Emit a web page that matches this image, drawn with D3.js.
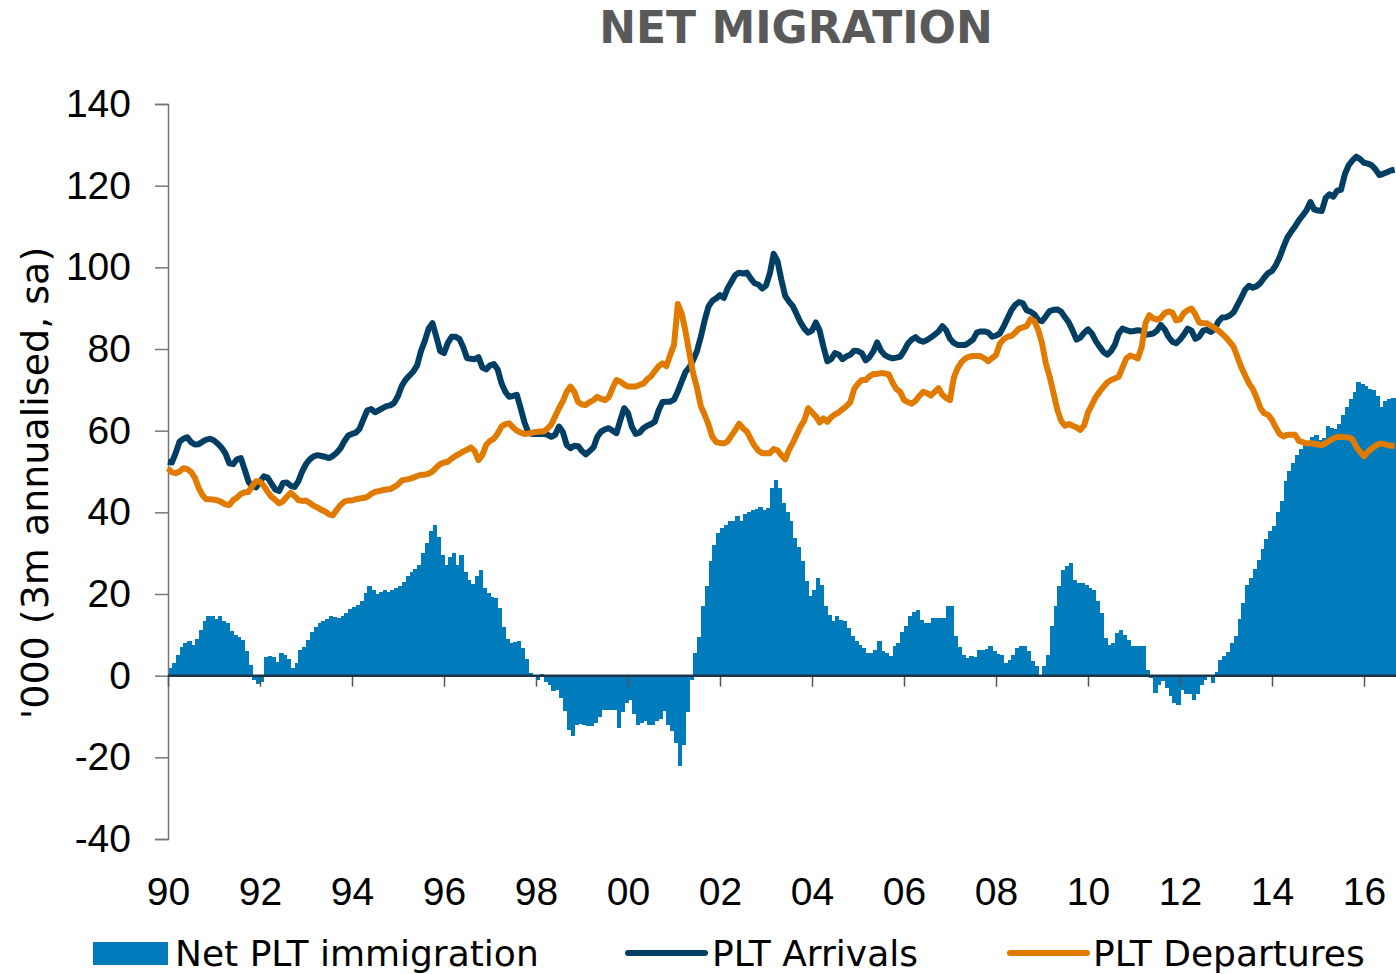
<!DOCTYPE html>
<html lang="en">
<head>
<meta charset="utf-8">
<title>Net migration</title>
<script src="https://cdn.jsdelivr.net/npm/d3@7"></script>
<style>
  html, body { margin: 0; padding: 0; background: #fff; }
  svg { display: block; font-family: "DejaVu Sans", Verdana, sans-serif; }
  .axis text { fill: #000; }
</style>
</head>
<body>
<svg width="1396" height="974"></svg>
<script>
// monthly series, Jan 1990 onwards ('000, 3m annualised, sa)
var startYear = 1990;
var tickLabels = ["90","92","94","96","98","00","02","04","06","08","10","12","14","16"];
var yTicks = [-40, -20, 0, 20, 40, 60, 80, 100, 120, 140];
var seriesNames = ["Net PLT immigration", "PLT Arrivals", "PLT Departures"];

var netMigration = [
  2, 3, 5, 7, 8, 8.6, 7.5, 9, 11.3, 13.5, 14.7, 14.7,
  14, 14.5, 13.5, 13, 11, 10, 9.5, 8.8, 6, 2.5, -1, -2,
  -1.5, 4.5, 4.9, 4.6, 3.3, 5.5, 5.1, 4, 2, 3, 6.4, 7,
  8.8, 10.8, 12, 13, 13.5, 14, 14.5, 14.3, 14.1, 14.5, 15.3, 16.3,
  16.8, 17.2, 18.2, 20.2, 22, 21, 20, 20.5, 21, 20.6, 21, 21.5,
  22, 23, 24.5, 25.5, 26.1, 27.2, 30, 32.5, 35.5, 37, 34, 29.5,
  27, 29, 30, 27, 29.5, 25.5, 23.5, 22.5, 24.3, 26, 21.5, 20.2,
  19.3, 19, 16.5, 12, 9, 8, 8.3, 8.6, 6.8, 4, 0.7, -0.2,
  -1, 0.5, -1.5, -2.3, -3.8, -3.6, -5.5, -8.7, -13.2, -14.7, -12, -11.8,
  -12, -12.4, -12.4, -11.5, -10, -8.5, -8.3, -8.5, -8.5, -12.8, -9, -6.7,
  -6, -9.5, -12, -11.5, -11.2, -12, -12.2, -11.2, -10.6, -8.7, -12, -13.5,
  -16.5, -22.2, -16.9, -9, -1, 5.5, 9.5, 17, 22, 28, 32, 35,
  36.1, 36.9, 38, 37.8, 39, 38, 39.5, 40, 40.5, 40.8, 41.2, 40.6,
  41, 45.9, 48, 46, 42.3, 40.2, 37.8, 33.7, 31.6, 28, 23.1, 19.4,
  21, 23.9, 22.3, 17, 14.9, 13.3, 14.5, 13.7, 13.5, 11.7, 9.6, 8.6,
  7.6, 6.8, 5.5, 5.5, 6.4, 8.6, 6, 5.5, 4.9, 7.2, 8, 10.8,
  12.1, 14.5, 15.7, 16.2, 13.7, 12.9, 12.9, 14.1, 14.1, 14.1, 14.1, 17.1,
  17, 9.6, 7, 5.1, 4.3, 4.7, 4.6, 6.2, 6.2, 6.5, 7.2, 6,
  5.4, 5.1, 3.1, 3.9, 5.1, 6.8, 7.3, 7.3, 6, 3.5, 2.3, 0.2,
  2.3, 5.1, 12.1, 17, 21.9, 25.9, 26.8, 27.6, 23.5, 22.7, 22.8, 22.3,
  21.5, 21, 18.2, 15.3, 9.2, 7.6, 8, 10.4, 11.3, 10, 8.8, 7.2,
  7.2, 7.3, 7.3, 1.5, -0.6, -4.2, -2.2, -1.4, -3, -5.1, -6.7, -7.1,
  -3.4, -4.6, -4.6, -5.9, -4.6, -2.2, -1, -0.2, -1.7, 0.9, 3.9, 4.8,
  5.9, 8, 9.6, 14, 17.9, 22.3, 24, 26.2, 28.4, 31, 33.4, 35.4,
  36.7, 40.2, 42.8, 47.6, 50.2, 52, 54.1, 55.5, 56.8, 57.2, 58.5, 59,
  57.6, 58.1, 61.1, 60.7, 60.3, 61.6, 63.8, 65.9, 67.7, 69.4, 71.8, 71.4,
  70.9, 70.3, 69.9, 68.6, 65.9, 67.2, 67.7, 68.1, 68
];

var arrivals = [
  52.4, 52.2, 54.5, 57.3, 58, 58.4, 57.2, 56.6, 56.7, 57.3, 57.8, 58,
  57.6, 56.8, 55.8, 54.4, 52, 51.8, 53, 53.3, 50.5, 47.5, 46.4, 46.1,
  47.5, 48.8, 48.5, 47, 45.6, 45.2, 47.2, 47.3, 46.5, 46.2, 47.6, 50,
  51.8, 53, 53.7, 54, 53.8, 53.6, 53.3, 53.8, 54.6, 55.7, 57.4, 58.8,
  59.2, 59.5, 60.5, 62.8, 65, 65.3, 64.5, 65, 65.5, 66, 66.2, 66.8,
  68.5, 71, 72.5, 73.5, 74.5, 76, 79.5, 82, 85, 86.3, 83, 79.5,
  79, 81.5, 83, 83, 82.5, 80.5, 77.8, 77.6, 77.5, 78, 75.5, 75,
  76, 76.3, 75, 71.6, 69.5, 68.3, 68.5, 68.8, 65.5, 62, 59.5, 59.2,
  59.2, 59.2, 59.2, 59, 58.5, 59, 61, 59.7, 56.5, 55.7, 56.3, 56.2,
  55, 54.2, 55, 55.9, 58.5, 59.8, 60.3, 60.6, 60, 59.4, 62.6, 65.5,
  64.3, 61, 59.2, 59.5, 60.6, 61.2, 61.6, 62.2, 65, 67, 67.1, 67.1,
  67.6, 69.6, 72, 74.4, 75.5, 77.3, 79.5, 83, 87, 90.4, 91.8, 92.4,
  93.2, 92.5, 94.9, 96.5, 98.1, 98.7, 98.5, 98.7, 97.3, 96.1, 95.8, 94.8,
  95.5, 98.5, 103.3, 101.5, 97, 93, 91.6, 90.5, 88.5, 86.5, 85, 84,
  84.5, 86.5, 84.5, 80.5, 77, 77.5, 79, 78.6, 77.5, 78.2, 78.6, 79.6,
  79.5, 79, 77.2, 78, 79.4, 81.6, 79.6, 78.5, 78, 77.7, 77.9, 78.1,
  79.5, 81.3, 82.3, 82.9, 82.1, 81.8, 82.2, 82.8, 83.5, 84.3, 85.6, 84.6,
  82.5, 81.5, 81, 81, 81, 81.6, 82.3, 84, 84.3, 84.3, 84, 83,
  83.3, 83.8, 85.5, 87.5, 89.5, 90.8, 91.5, 91.2, 89.5, 89.1, 88.5, 87.1,
  86.8, 88, 89.3, 89.6, 89.7, 89.1, 87.8, 86.5, 84.5, 82.3, 82.8, 84,
  84.8, 83.8, 82, 80.6, 79.3, 78.6, 79.5, 81, 83.8, 85, 84.6, 84.3,
  84.4, 84.6, 84.5, 83.5, 83.6, 83.8, 84.5, 85.9, 84.8, 83, 81.8, 81.4,
  82.3, 83.5, 85, 84.5, 82.5, 83, 84.5, 84.7, 84.2, 84.8, 86.7, 87.7,
  87.8, 88.2, 89, 90.8, 92.6, 94.5, 95.5, 95, 95.4, 96.2, 97.5, 98.6,
  99.1, 100.5, 102.5, 105, 107.3, 108.7, 110, 111.5, 112.7, 114, 116, 114.2,
  113.9, 113.8, 117, 117.9, 117.3, 118.8, 119, 122.8, 125, 126.2, 127.1, 126.5,
  125.6, 125.4, 125, 124, 122.6, 122.9, 123.3, 123.7, 123.9
];

var departures = [
  50.8, 49.8, 49.6, 50, 50.8, 50.6, 49.9, 48.5, 46, 44.2, 43.2, 43.2,
  43.1, 42.9, 42.5, 41.9, 41.8, 43, 43.6, 44.5, 44.9, 45, 46.5, 47.6,
  47.5, 46.5, 45, 43.8, 43, 42.2, 42.7, 43.8, 44.8, 44, 43, 42.8,
  42.9, 42.3, 41.6, 41.2, 40.6, 40.2, 39.5, 39.3, 40.6, 41.8, 42.6, 42.9,
  42.9, 43.2, 43.4, 43.5, 43.8, 44.5, 45, 45.2, 45.4, 45.6, 45.7, 46.2,
  46.8, 47.8, 48, 48.2, 48.5, 48.9, 49.2, 49.2, 49.5, 50, 51, 51.8,
  52.2, 52.4, 53.2, 53.8, 54.3, 54.9, 55.3, 55.9, 55, 52.8, 54, 56.5,
  57.5, 58, 59.3, 61, 61.6, 61.8, 60.8, 60, 59.5, 59.2, 59.3, 59.5,
  59.7, 59.8, 59.8, 60.5, 61.5, 63.5, 65.5, 67.2, 69.5, 70.8, 69.5, 67,
  66.4, 66.3, 67, 67.5, 68.3, 67.8, 67.5, 68.2, 70.5, 72.4, 72, 71.3,
  70.8, 70.8, 70.8, 71.2, 71.5, 72.6, 73.3, 74.6, 75.8, 76.5, 75.8, 78.5,
  81, 91, 88.7, 84.3, 79, 74, 70.5, 66, 63.9, 61.5, 58.5, 57.2,
  57, 56.9, 57.4, 58.8, 60.2, 61.7, 60.6, 59.8, 58, 56.3, 55.1, 54.5,
  54.5, 54.5, 55.5, 55.2, 54, 53, 55.3, 57, 59, 61, 62.5, 65.5,
  64.5, 63.5, 62, 63, 62.2, 63.3, 64, 64.5, 65.3, 66, 67, 70.2,
  71.5, 72.4, 72.4, 73.3, 73.9, 73.9, 74.1, 74, 73.8, 71.8, 70.2, 69.5,
  67.5, 67, 66.6, 67.3, 68.5, 69.5, 69.2, 68.6, 69.5, 70.4, 68.8, 68,
  67.5, 73, 75.3, 76.8, 77.7, 78.1, 78.3, 78.3, 78.2, 77.7, 77, 77.8,
  78.5, 81.3, 82.4, 83, 83.2, 84, 85, 85.3, 85.6, 87.3, 86.8, 84.7,
  81.4, 76.5, 73.2, 69.2, 65.1, 62.4, 61.2, 61.6, 61.2, 60.8, 60.2, 61.3,
  64.5, 66.3, 68.2, 69.5, 70.7, 71.8, 72.4, 72.8, 73.2, 75.5, 77.7, 78.4,
  78.1, 77.7, 80.5, 86.3, 88.3, 87.5, 87.2, 87.6, 88.8, 89.2, 88.9, 87,
  87.2, 88.8, 89.5, 89.9, 88.5, 86.5, 86.3, 86.3, 85.7, 85.2, 84.5, 83.7,
  82.8, 81.7, 80.5, 78, 75.5, 73.5, 71.6, 70.2, 68, 65.5, 64.2, 63.9,
  62.6, 60.8, 59.2, 58.6, 59, 59, 59, 57.5, 57.2, 56.9, 56.9, 56.8,
  56.6, 56.4, 57, 57.5, 58.1, 58.4, 58.5, 58.4, 58.3, 57.9, 56, 54.8,
  53.7, 54.8, 55.6, 56.3, 56.8, 56.8, 56.5, 56.3, 56.3
];

var svg = d3.select("svg"),
    margin = {top: 104, right: 32, bottom: 135, left: 168},
    width = 1364 - margin.left,          // 26 years to the "16" tick
    height = +svg.attr("height") - margin.top - margin.bottom;

var colNet = "#007bbb", colArr = "#003f63", colDep = "#e07b00";

// x in months since Jan 1990
var x = d3.scaleLinear().domain([0, (2016 - startYear) * 12]).range([0, width]);
var y = d3.scaleLinear().domain([-40, 140]).range([height, 0]);

var g = svg.append("g")
    .attr("transform", "translate(" + margin.left + "," + margin.top + ")");

var step = x(1) - x(0);

// net bars
g.selectAll(".bar")
  .data(netMigration)
  .enter().append("rect")
    .attr("class", "bar")
    .attr("x", function(d, i) { return x(i); })
    .attr("y", function(d) { return y(Math.max(0, d)); })
    .attr("width", step + 0.6)
    .attr("height", function(d) { return Math.abs(y(d) - y(0)); })
    .attr("fill", colNet)
    .attr("shape-rendering", "crispEdges");

// y axis (plain hyphen for negatives, like the original)
var yAxis = g.append("g")
    .attr("class", "axis axis--y")
    .call(d3.axisLeft(y).tickValues(yTicks).tickSize(13).tickPadding(24)
      .tickFormat(function(d) { return String(d); }));
yAxis.select(".domain").attr("stroke", "#777").attr("stroke-width", 1.5);
yAxis.selectAll(".tick line").attr("stroke", "#777").attr("stroke-width", 1.5);
yAxis.selectAll("text").style("font-size", "39px");

// zero line with year ticks
var tickMonths = tickLabels.map(function(d, i) { return i * 24; });
var xAxis = g.append("g")
    .attr("class", "axis axis--x")
    .attr("transform", "translate(0," + y(0) + ")")
    .call(d3.axisBottom(x).tickValues(tickMonths).tickSize(11).tickSizeOuter(0).tickFormat(""));
xAxis.select(".domain").remove();
xAxis.selectAll(".tick line").attr("stroke", "#555").attr("stroke-width", 1.5);
g.append("line")
    .attr("x1", 0).attr("x2", x(330))
    .attr("y1", y(0)).attr("y2", y(0))
    .attr("stroke", "#1d3547").attr("stroke-width", 2.5);

// year labels at the bottom
var xLab = g.append("g")
    .attr("class", "axis axis--xlab")
    .attr("transform", "translate(0," + height + ")")
    .call(d3.axisBottom(x).tickValues(tickMonths).tickSize(0).tickPadding(38)
      .tickFormat(function(d, i) { return tickLabels[i]; }));
xLab.select(".domain").remove();
xLab.selectAll("text").style("font-size", "39px");

// lines
var line = d3.line()
    .x(function(d, i) { return x(i); })
    .y(function(d) { return y(d); });

g.append("path")
    .datum(arrivals)
    .attr("fill", "none")
    .attr("stroke", colArr)
    .attr("stroke-width", 6)
    .attr("stroke-linejoin", "round")
    .attr("d", line);

g.append("path")
    .datum(departures)
    .attr("fill", "none")
    .attr("stroke", colDep)
    .attr("stroke-width", 6)
    .attr("stroke-linejoin", "round")
    .attr("d", line);

// title
svg.append("text")
    .attr("x", 796)
    .attr("y", 43)
    .attr("text-anchor", "middle")
    .style("font-size", "44px")
    .style("font-weight", "bold")
    .style("fill", "#595959")
    .text("NET MIGRATION");

// y axis title
svg.append("text")
    .attr("transform", "translate(48,483) rotate(-90)")
    .attr("text-anchor", "middle")
    .style("font-size", "38px")
    .style("fill", "#000")
    .text("'000 (3m annualised, sa)");

// legend
var legend = svg.append("g").attr("class", "legend");
legend.append("rect")
    .attr("x", 93).attr("y", 942).attr("width", 75).attr("height", 23)
    .attr("fill", colNet);
legend.append("line")
    .attr("x1", 628).attr("x2", 705).attr("y1", 953).attr("y2", 953)
    .attr("stroke", colArr).attr("stroke-width", 6).attr("stroke-linecap", "round");
legend.append("line")
    .attr("x1", 1010).attr("x2", 1087).attr("y1", 953).attr("y2", 953)
    .attr("stroke", colDep).attr("stroke-width", 6).attr("stroke-linecap", "round");

var legendX = [175, 712, 1093];
legend.selectAll(".legend-label")
  .data(seriesNames)
  .enter().append("text")
    .attr("class", "legend-label")
    .attr("x", function(d, i) { return legendX[i]; })
    .attr("y", 966)
    .style("font-size", "36px")
    .style("fill", "#000")
    .text(function(d) { return d; });
</script>
</body>
</html>
